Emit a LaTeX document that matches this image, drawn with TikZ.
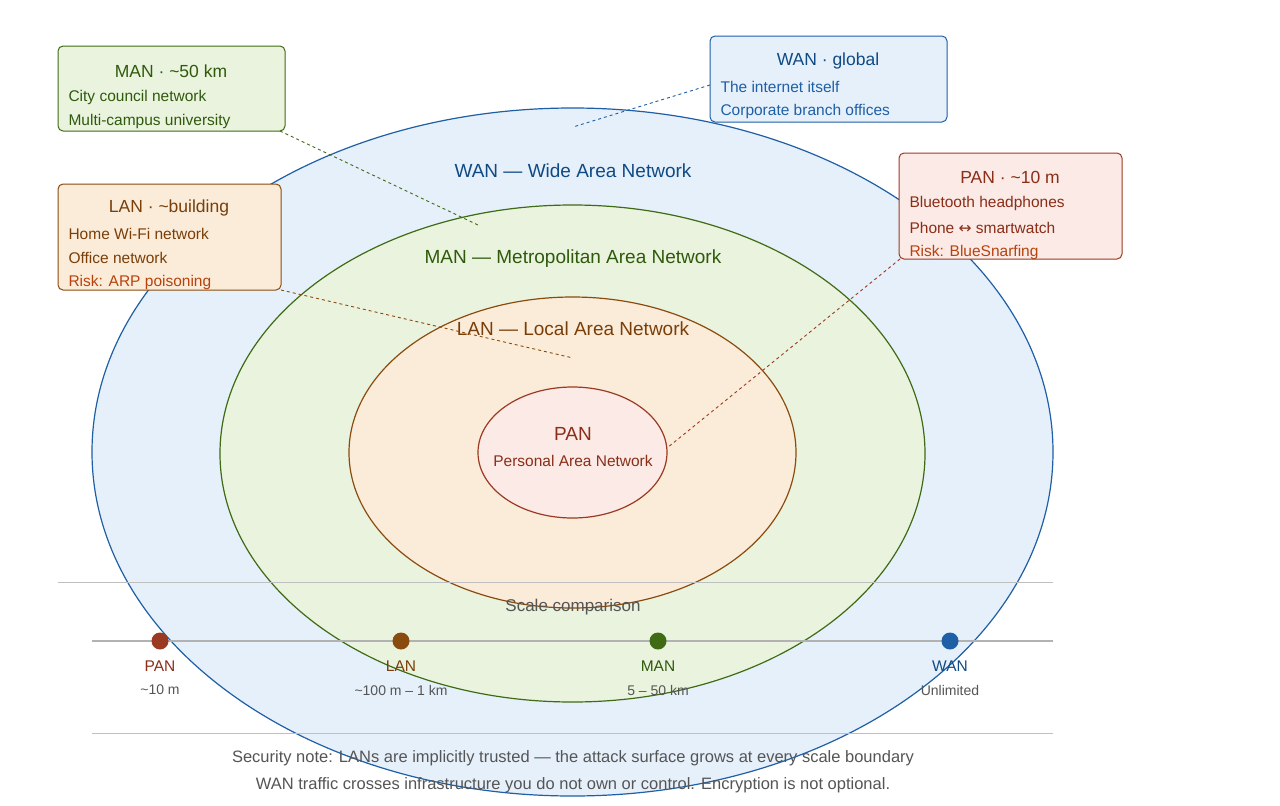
\documentclass[tikz,border=0pt]{standalone}
\usepackage{fontspec}
\setmainfont{Liberation Sans}
\usetikzlibrary{shapes.geometric}
\begin{document}
\begin{tikzpicture}[x=1pt,y=-1pt,
  lbl/.style={font=\fontsize{19}{22}\selectfont},
  ttl/.style={font=\fontsize{17.5}{20}\selectfont},
  bdy/.style={font=\fontsize{15.5}{18}\selectfont,anchor=west},
  lead/.style={dashed,line width=0.9pt},
  box/.style={rounded corners=5pt,line width=1pt},
  dot/.style={circle,inner sep=0pt,minimum size=17pt}]
\definecolor{wanS}{HTML}{1F5FA6}\definecolor{wanF}{HTML}{E6F0FA}\definecolor{wanT}{HTML}{0F4A85}
\definecolor{manS}{HTML}{3E6B14}\definecolor{manF}{HTML}{EAF3DE}\definecolor{manT}{HTML}{2F5A0C}
\definecolor{lanS}{HTML}{8A4B0E}\definecolor{lanF}{HTML}{FBECD9}\definecolor{lanT}{HTML}{7A3E08}
\definecolor{panS}{HTML}{9B3A22}\definecolor{panF}{HTML}{FBEAE6}\definecolor{panT}{HTML}{8A2E18}
\definecolor{risk}{HTML}{B8420E}\definecolor{gry}{HTML}{555555}
\useasboundingbox (0,0) rectangle (1280,806);
\fill[white] (0,0) rectangle (1280,806);
\node[ellipse,draw=wanS,fill=wanF,line width=1.2pt,minimum width=961pt,minimum height=688pt,inner sep=0pt] (wan) at (572.5,452) {};
\node[ellipse,draw=manS,fill=manF,line width=1.2pt,minimum width=705pt,minimum height=497pt,inner sep=0pt] (man) at (572.5,453.5) {};
\node[ellipse,draw=lanS,fill=lanF,line width=1.2pt,minimum width=447pt,minimum height=311pt,inner sep=0pt] (lan) at (572.5,452.5) {};
\node[ellipse,draw=panS,fill=panF,line width=1.2pt,minimum width=189pt,minimum height=131pt,inner sep=0pt] (pan) at (572.5,452.5) {};
\node[lbl,text=wanT] at (573,171) {WAN — Wide Area Network};
\node[lbl,text=manT] at (573,259) {MAN — Metropolitan Area Network};
\node[lbl,text=lanT] at (573,329) {LAN — Local Area Network};
\node[lbl,text=panT] at (573,434) {PAN};
\node[font=\fontsize{15.5}{18}\selectfont,text=panT] at (573,461) {Personal Area Network};
% scale
\coordinate (s1) at (58,582); \coordinate (s2) at (1053,582);
\draw[black!25,line width=0.8pt] (s1) -- (s2);
\node[font=\fontsize{17}{20}\selectfont,text=gry] at (573,607) {Scale comparison};
\coordinate (a1) at (92,641); \coordinate (a2) at (1053,641);
\draw[black!30,line width=2.2pt] (a1) -- (a2);
\node[dot,fill=panS] (dp) at (160,641) {};
\node[dot,fill=lanS] (dl) at (401,641) {};
\node[dot,fill=manS] (dm) at (658,641) {};
\node[dot,fill=wanS] (dw) at (950,641) {};
\foreach \x/\n/\d/\c in {160/PAN/{\textasciitilde10 m}/panT,401/LAN/{\textasciitilde100 m – 1 km}/lanT,658/MAN/{5 – 50 km}/manT,950/WAN/Unlimited/wanT}{
  \node[font=\fontsize{15.5}{18}\selectfont,text=\c] at (\x,666) {\n};
  \node[font=\fontsize{14}{16}\selectfont,text=gry] at (\x,690) {\d};}
\coordinate (b1) at (92,733); \coordinate (b2) at (1053,733);
\draw[black!25,line width=0.8pt] (b1) -- (b2);
\node[font=\fontsize{16.5}{19}\selectfont,text=gry] at (573,758) {Security note: LANs are implicitly trusted — the attack surface grows at every scale boundary};
\node[font=\fontsize{16.5}{19}\selectfont,text=gry] at (573,785) {WAN traffic crosses infrastructure you do not own or control. Encryption is not optional.};
% boxes
\draw[box,draw=manS,fill=manF] (58,46) rectangle (285,131);
\node[ttl,text=manT] (bm) at (171,71) {MAN · \textasciitilde50 km};
\node[bdy,text=manT] at (65,97) {City council network};
\node[bdy,text=manT] at (65,121) {Multi-campus university};
\draw[box,draw=wanS,fill=wanF] (710,36) rectangle (947,122);
\node[ttl,text=wanT] at (828,61) {WAN · global};
\node[bdy,text=wanS] at (717,87) {The internet itself};
\node[bdy,text=wanS] at (717,111) {Corporate branch offices};
\draw[box,draw=lanS,fill=lanF] (58,184) rectangle (281,290);
\node[ttl,text=lanT] at (169,208) {LAN · \textasciitilde building};
\node[bdy,text=lanT] at (65,234) {Home Wi-Fi network};
\node[bdy,text=lanT] at (65,258) {Office network};
\node[bdy,text=risk] at (65,282) {Risk: ARP poisoning};
\draw[box,draw=panS,fill=panF] (899,153) rectangle (1122,259);
\node[ttl,text=panT] at (1010,177) {PAN · \textasciitilde10 m};
\node[bdy,text=panT] at (906,203) {Bluetooth headphones};
\node[bdy,text=panT] at (906,228) {Phone {\fontspec{DejaVu Sans}↔} smartwatch};
\node[bdy,text=risk] at (906,252) {Risk: BlueSnarfing};
% leaders
\coordinate (m1) at (280,131); \coordinate (m2) at (478,225);
\draw[lead,draw=manS] (m1) -- (m2);
\coordinate (w1) at (710,85); \coordinate (w2) at (573,127);
\draw[lead,draw=wanS] (w1) -- (w2);
\coordinate (l1) at (281,290); \coordinate (l2) at (573,358);
\draw[lead,draw=lanS] (l1) -- (l2);
\coordinate (p1) at (900,259); \coordinate (p2) at (667,448);
\draw[lead,draw=panS] (p1) -- (p2);
\end{tikzpicture}
\end{document}
